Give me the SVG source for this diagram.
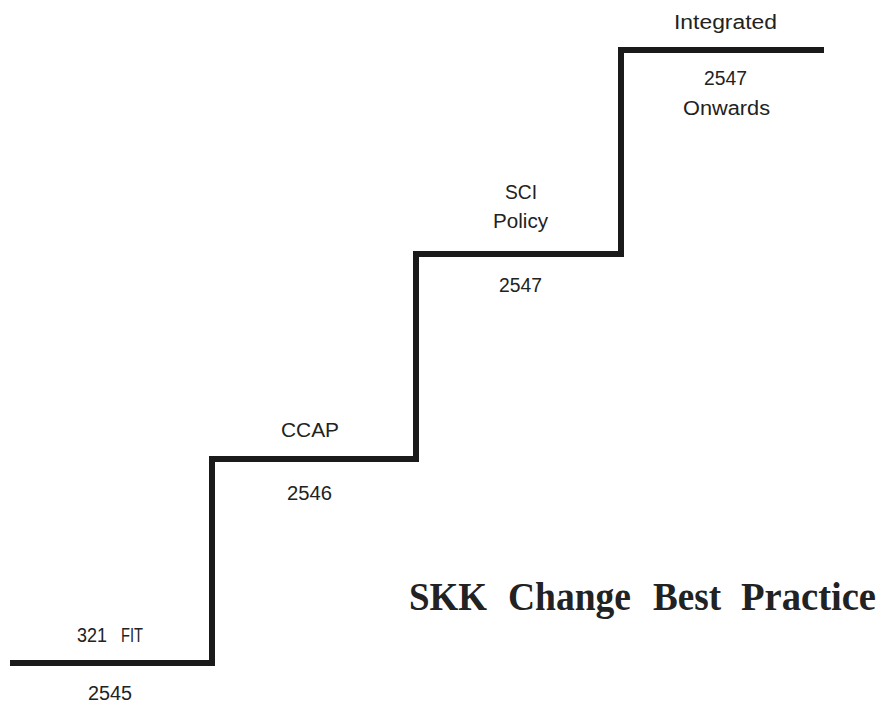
<svg xmlns="http://www.w3.org/2000/svg" width="883" height="705" viewBox="0 0 883 705">
<style>
.lbl{font-family:"Liberation Sans",Arial,sans-serif;font-size:20px;fill:#222;}
.title{font-family:"Liberation Serif","Times New Roman",serif;font-size:39px;font-weight:bold;fill:#222;}
.stair{fill:none;stroke:#1a1a1a;stroke-width:6;stroke-linejoin:miter;}
</style>
<rect width="883" height="705" fill="#fff"/>
<g id="connectors">
<path class="stair" d="M10,663 H212 V459 H416 V254 H621 V50 H824"/>
</g>
<g id="step1">
<text class="lbl" y="642"><tspan x="77" textLength="30" lengthAdjust="spacingAndGlyphs">321</tspan><tspan x="121" textLength="22" lengthAdjust="spacingAndGlyphs">FIT</tspan></text>
<text class="lbl" x="88" y="700" textLength="44" lengthAdjust="spacingAndGlyphs">2545</text>
</g>
<g id="step2">
<text class="lbl" x="281" y="437" textLength="58" lengthAdjust="spacingAndGlyphs">CCAP</text>
<text class="lbl" x="287" y="500" textLength="45" lengthAdjust="spacingAndGlyphs">2546</text>
</g>
<g id="step3">
<text class="lbl" x="505" y="199" textLength="32" lengthAdjust="spacingAndGlyphs">SCI</text>
<text class="lbl" x="493" y="228" textLength="55" lengthAdjust="spacingAndGlyphs">Policy</text>
<text class="lbl" x="499" y="292" textLength="43" lengthAdjust="spacingAndGlyphs">2547</text>
</g>
<g id="step4">
<text class="lbl" x="674" y="29" textLength="103" lengthAdjust="spacingAndGlyphs">Integrated</text>
<text class="lbl" x="704" y="85" textLength="43" lengthAdjust="spacingAndGlyphs">2547</text>
<text class="lbl" x="683" y="115" textLength="87" lengthAdjust="spacingAndGlyphs">Onwards</text>
</g>
<g id="title">
<text class="title" y="610"><tspan x="409" textLength="78" lengthAdjust="spacingAndGlyphs">SKK</tspan><tspan x="508" textLength="123" lengthAdjust="spacingAndGlyphs">Change</tspan><tspan x="653" textLength="68" lengthAdjust="spacingAndGlyphs">Best</tspan><tspan x="741" textLength="135" lengthAdjust="spacingAndGlyphs">Practice</tspan></text>
</g>
</svg>
